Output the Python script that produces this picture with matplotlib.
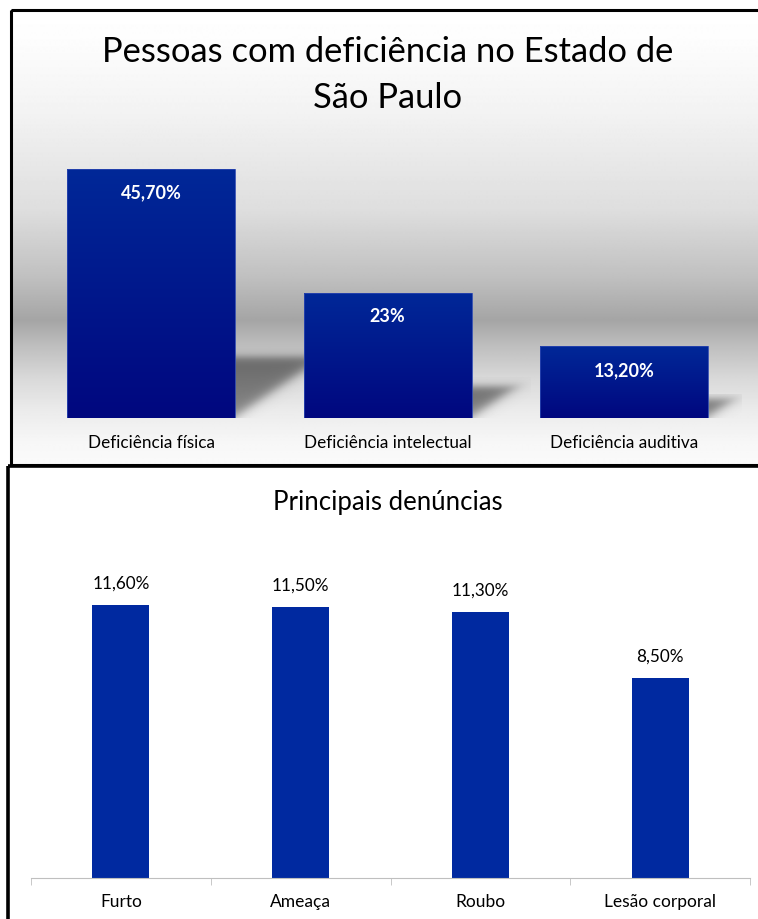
import numpy as np
import matplotlib
matplotlib.use("Agg")
import matplotlib.pyplot as plt
from matplotlib.colors import LinearSegmentedColormap
from matplotlib.patches import Rectangle

plt.rcParams["font.family"] = ["Lato", "DejaVu Sans"]

# --- data -------------------------------------------------------------------
top_title = ["Pessoas com deficiência no Estado de", "São Paulo"]
top_cats = ["Deficiência física", "Deficiência intelectual", "Deficiência auditiva"]
top_vals = [45.7, 23.0, 13.2]
top_labels = ["45,70%", "23%", "13,20%"]

bot_title = "Principais denúncias"
bot_cats = ["Furto", "Ameaça", "Roubo", "Lesão corporal"]
bot_vals = [11.6, 11.5, 11.3, 8.5]
bot_labels = ["11,60%", "11,50%", "11,30%", "8,50%"]

# --- layout (pixels) --------------------------------------------------------
W, H = 758, 919


def box(x0, y0, x1, y1):
    return [x0 / W, 1 - y1 / H, (x1 - x0) / W, (y1 - y0) / H]


def sig(z):
    return 1.0 / (1.0 + np.exp(-z))


fig = plt.figure(figsize=(W / 100, H / 100), dpi=100)

# canvas in pixel coords for backgrounds, titles and frames
canvas = fig.add_axes([0, 0, 1, 1], zorder=0)
canvas.set_xlim(0, W)
canvas.set_ylim(H, 0)
canvas.axis("off")

# grey "studio" gradient behind the top chart
stops = [(10, 255), (40, 253), (110, 243), (210, 222), (277, 192), (320, 165),
         (343, 188), (377, 216), (410, 235), (443, 247), (465, 250)]
ys = np.arange(10, 466)
grey = np.interp(ys, [s[0] for s in stops], [s[1] for s in stops]) / 255
img = np.repeat(grey[:, None], 2, axis=1)
canvas.imshow(img, cmap="gray", vmin=0, vmax=1, extent=(11, 770, 465, 10),
              aspect="auto", interpolation="bilinear", zorder=0)
canvas.add_patch(Rectangle((8, 466), 770, 470, facecolor="white", edgecolor="none", zorder=0))

canvas.text(388, 62, top_title[0], ha="center", va="baseline", fontsize=24.8)
canvas.text(388, 108, top_title[1], ha="center", va="baseline", fontsize=24.8)
canvas.text(388, 510, bot_title, ha="center", va="baseline", fontsize=18.5)

# --- top chart: gradient bars with cast shadows ------------------------------
AX1 = (33, 145.5, 742.5, 418)
Y1MAX = 50
ax1 = fig.add_axes(box(*AX1), zorder=1)
ax1.patch.set_visible(False)
px_x = (AX1[2] - AX1[0]) / len(top_vals)
px_y = (AX1[3] - AX1[1]) / Y1MAX

bar_cmap = LinearSegmentedColormap.from_list("bars", ["#00077f", "#002898"])
grad = np.linspace(0, 1, 256)[:, None]
xs = np.arange(len(top_vals))
bars = ax1.bar(xs, top_vals, width=0.71, color="none", edgecolor="#2a46b0",
               linewidth=0.6, zorder=3)
for b, v, lab in zip(bars, top_vals, top_labels):
    x0, x1 = b.get_x(), b.get_x() + b.get_width()
    im = ax1.imshow(grad, cmap=bar_cmap, extent=(x0, x1, 0, v), origin="lower",
                    aspect="auto", zorder=2)
    im.set_clip_path(b)

    # soft floor shadow to the right of the bar (sizes in pixels)
    hpx = v * px_y
    sh, sw = 0.24 * hpx, 0.36 * hpx
    uu, vv = np.meshgrid(np.arange(0, sw * 1.3), np.arange(0, sh * 1.3))
    d = (vv * sw - uu * sh) / np.hypot(sw, sh)
    alpha = 0.78 * sig((sh - vv) / 2.5) * sig((d - 1) / 3.0) * (0.8 + 0.2 * vv / sh).clip(0, 1)
    rgba = np.zeros(uu.shape + (4,))
    rgba[..., :3] = 0.3
    rgba[..., 3] = alpha
    ax1.imshow(rgba, extent=(x1, x1 + uu.shape[1] / px_x, 0, uu.shape[0] / px_y),
               origin="lower", aspect="auto", interpolation="bilinear", zorder=1)

    ax1.annotate(lab, ((x0 + x1) / 2, v), xytext=(0, -17.5),
                 textcoords="offset points", ha="center", va="center",
                 color="white", fontsize=13, fontweight="bold", zorder=4)

ax1.set_xlim(-0.5, len(top_vals) - 0.5)
ax1.set_ylim(0, Y1MAX)
ax1.set_xticks(xs, top_cats, fontsize=12.3)
ax1.tick_params(axis="x", length=0, pad=12.5)
ax1.set_yticks([])
for s in ax1.spines.values():
    s.set_visible(False)

# --- bottom chart -----------------------------------------------------------
AX2 = (31, 548, 750, 878)
Y2MAX = 14
ax2 = fig.add_axes(box(*AX2), zorder=1)
ax2.patch.set_visible(False)
xb = np.arange(len(bot_vals))
bars2 = ax2.bar(xb, bot_vals, width=0.317, color="#0029a0", zorder=2)
for b, lab in zip(bars2, bot_labels):
    ax2.annotate(lab, (b.get_x() + b.get_width() / 2, b.get_height()), xytext=(0, 15),
                 textcoords="offset points", ha="center", va="center",
                 color="black", fontsize=12.3)
ax2.set_xlim(-0.5, len(bot_vals) - 0.5)
ax2.set_ylim(0, Y2MAX)
ax2.set_xticks(xb, bot_cats, fontsize=12.5)
ax2.set_xticks(np.arange(len(bot_vals) + 1) - 0.5, minor=True)
ax2.tick_params(axis="x", which="major", length=0, pad=11.5)
ax2.tick_params(axis="x", which="minor", length=5, color="#bfbfbf")
ax2.set_yticks([])
for name, s in ax2.spines.items():
    s.set_visible(name == "bottom")
ax2.spines["bottom"].set_color("#bfbfbf")

# --- panel frames -----------------------------------------------------------
fig.add_artist(Rectangle((11, 10), 770, 455, transform=canvas.transData,
                         facecolor="none", edgecolor="black", linewidth=2.2, zorder=5))
fig.add_artist(Rectangle((8, 466), 770, 470, transform=canvas.transData,
                         facecolor="none", edgecolor="black", linewidth=2.6, zorder=5))

fig.savefig("out.png", dpi=100)
